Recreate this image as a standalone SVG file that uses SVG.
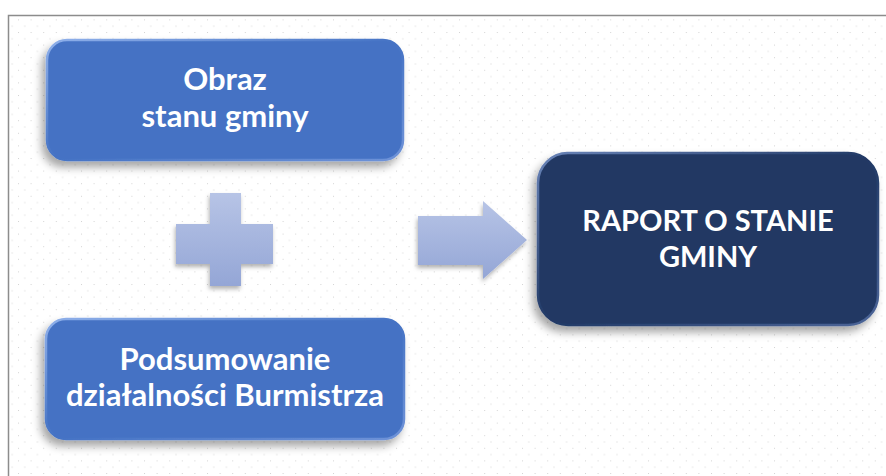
<svg xmlns="http://www.w3.org/2000/svg" width="886" height="476" viewBox="0 0 886 476">
<defs>
<pattern id="dots" x="18" y="32" width="12.6" height="12.6" patternUnits="userSpaceOnUse">
<rect x="0" y="0" width="1" height="1" fill="#d4d4d4"/>
<rect x="6.3" y="6.3" width="1" height="1" fill="#d4d4d4"/>
</pattern>
<linearGradient id="shapeGrad" x1="0" y1="0" x2="0" y2="1">
<stop offset="0" stop-color="#b7c4e6"/>
<stop offset="1" stop-color="#94a6d6"/>
</linearGradient>
<linearGradient id="blueEdge" x1="0" y1="0" x2="1" y2="1">
<stop offset="0" stop-color="#8fb0ea"/>
<stop offset="0.5" stop-color="#4472c4"/>
<stop offset="1" stop-color="#6f93d8"/>
</linearGradient>
<linearGradient id="darkEdge" x1="0" y1="0" x2="1" y2="1">
<stop offset="0" stop-color="#6a84b8"/>
<stop offset="0.5" stop-color="#203864"/>
<stop offset="1" stop-color="#4d6699"/>
</linearGradient>
<filter id="shadow" x="-20%" y="-20%" width="140%" height="150%">
<feDropShadow dx="-4" dy="6" stdDeviation="4" flood-color="#000" flood-opacity="0.35"/>
</filter>
<filter id="shadowSm" x="-20%" y="-20%" width="140%" height="150%">
<feDropShadow dx="-1" dy="3" stdDeviation="2" flood-color="#000" flood-opacity="0.3"/>
</filter>
</defs>
<style>
.lbl{font-family:Lato,"Open Sans","Liberation Sans",sans-serif;font-weight:bold;font-size:31px;fill:#ffffff;text-anchor:middle}
.big{font-size:29px}
.blue{fill:#4472c4;stroke:url(#blueEdge);stroke-width:2.5}
.dark{fill:#203864;stroke:url(#darkEdge);stroke-width:2.5}
.sym{fill:url(#shapeGrad)}
</style>
<rect x="0" y="0" width="886" height="476" fill="#ffffff"/>
<rect x="9" y="16" width="877" height="460" fill="url(#dots)"/>
<path d="M8.5 476 V15.5 H886" fill="none" stroke="#8c8c8c" stroke-width="1.5"/>
<g id="connectors">
<path class="sym" filter="url(#shadowSm)" d="M210 193 H241 V224 H273 V264 H241 V286 H210 V264 H176 V224 H210 Z"/>
<path class="sym" filter="url(#shadowSm)" d="M418 216 H483 V201 L527 240 L483 279 V265 H418 Z"/>
</g>
<g id="node-obraz">
<rect class="blue" filter="url(#shadow)" x="47" y="40" width="356" height="120" rx="20"/>
<text class="lbl" x="225" y="90">Obraz</text>
<text class="lbl" x="225" y="127">stanu gminy</text>
</g>
<g id="node-podsumowanie">
<rect class="blue" filter="url(#shadow)" x="46" y="319" width="358" height="120" rx="20"/>
<text class="lbl" x="225" y="370">Podsumowanie</text>
<text class="lbl" x="225" y="406">działalności Burmistrza</text>
</g>
<g id="node-raport">
<rect class="dark" filter="url(#shadow)" x="538" y="153" width="340" height="172" rx="30"/>
<text class="lbl big" x="708" y="231">RAPORT O STANIE</text>
<text class="lbl big" x="708" y="267">GMINY</text>
</g>
</svg>
